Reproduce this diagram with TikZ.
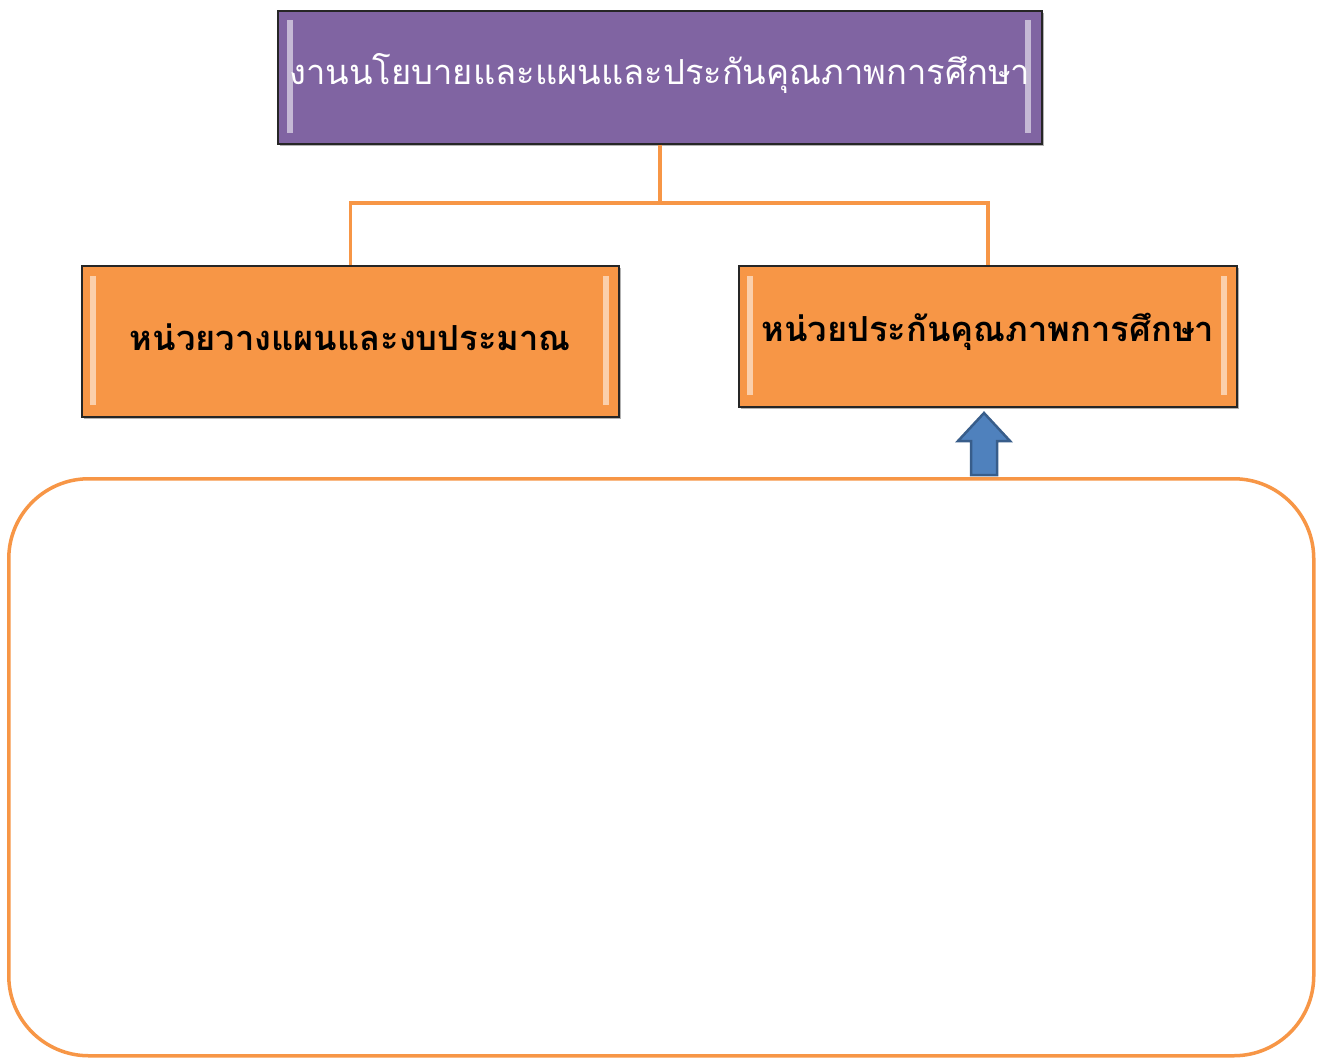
\documentclass[tikz,border=0pt]{standalone}
\usepackage{fontspec}
\newfontfamily\thaifont[Script=Thai]{Loma}
\definecolor{purp}{HTML}{8064A2}
\definecolor{orng}{HTML}{F79646}
\definecolor{bluef}{HTML}{4F81BD}
\definecolor{blued}{HTML}{385D8A}
\begin{document}
\begin{tikzpicture}[x=1pt,y=-1pt,
  boxbase/.style={draw=black!85, line width=1.6pt, inner sep=0pt, anchor=north west},
  shadowbox/.style={fill=black!30, draw=none},
  conn/.style={draw=orng, line width=3.5pt},
  strip/.style={fill=white, opacity=0.55, draw=none},
  thaitext/.style={font=\thaifont\fontsize{34.5}{40}\selectfont, yshift=4pt},
  thaibold/.style={font=\thaifont\bfseries\fontsize{34.5}{40}\selectfont, yshift=4pt}]
\useasboundingbox (0,0) rectangle (1319,1057);
% shadows
\fill[shadowbox] (280,13) rectangle (1044,146);
\fill[shadowbox] (84,268) rectangle (621,419);
\fill[shadowbox] (741,268) rectangle (1239,409);
% top box
\node[boxbase, fill=purp, minimum width=764pt, minimum height=133pt] (top) at (277,10) {};
\fill[strip] (287,20) rectangle (293,133);
\fill[strip] (1025,20) rectangle (1031,133);
\node[thaitext, text=white] (toptext) at (top.center) {งานนโยบายและแผนและประกันคุณภาพการศึกษา};
% left box
\node[boxbase, fill=orng, minimum width=537pt, minimum height=151pt] (left) at (81,265) {};
\fill[strip] (90,276) rectangle (96,405);
\fill[strip] (603,276) rectangle (609,405);
\node[thaibold] (lefttext) at (left.center) {หน่วยวางแผนและงบประมาณ};
% right box
\node[boxbase, fill=orng, minimum width=498pt, minimum height=141pt] (right) at (738,265) {};
\fill[strip] (747,276) rectangle (753,395);
\fill[strip] (1221,276) rectangle (1227,395);
\node[thaibold] (righttext) at (right.center) {หน่วยประกันคุณภาพการศึกษา};
% connectors
\coordinate (j) at (top.south |- 0,203);
\draw[conn] (top.south) -- (j);
\draw[conn] (left.north) |- (j) -| (right.north);
% big rounded box
\node[draw=orng, line width=3.5pt, rounded corners=80pt, fill=white, minimum width=1305pt, minimum height=577pt, anchor=north west, inner sep=0pt] (big) at (7,477) {};
% arrow
\draw[fill=bluef, draw=blued, line width=2.5pt, line join=miter]
  (971,475) -- (971,441) -- (958,441) -- (984,413) -- (1010,441) -- (997,441) -- (997,475) -- cycle;
\end{tikzpicture}
\end{document}
